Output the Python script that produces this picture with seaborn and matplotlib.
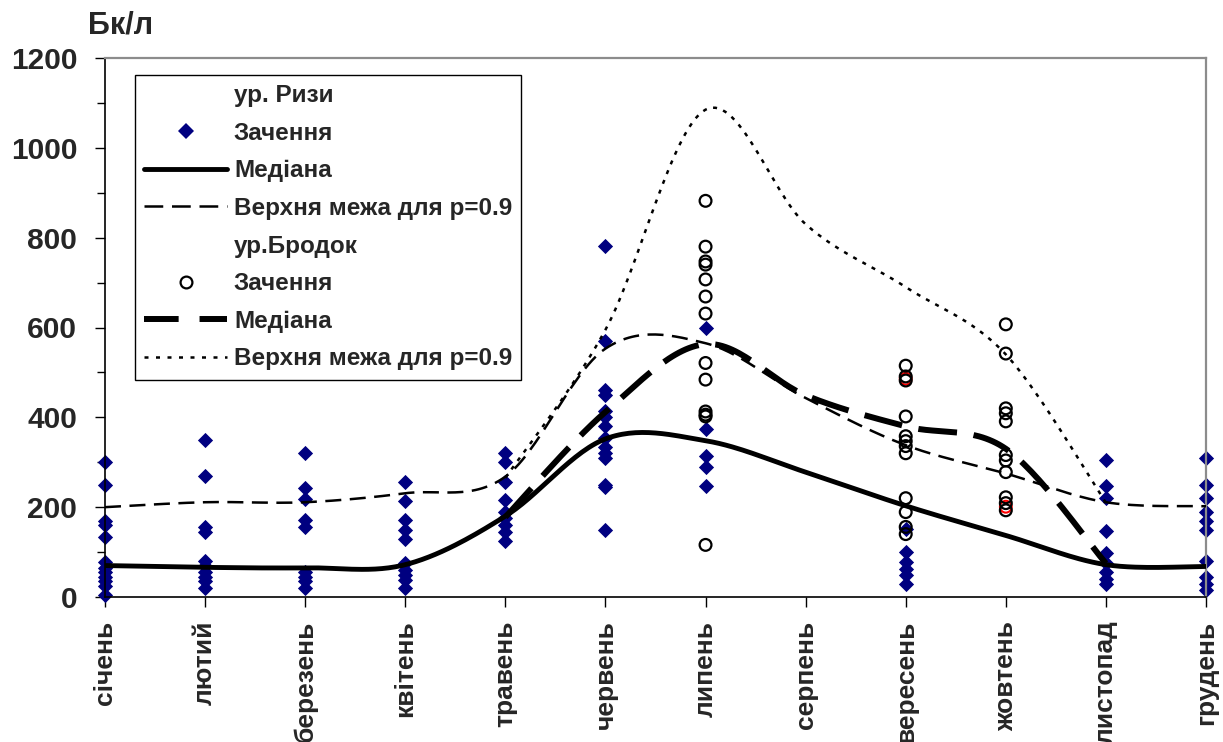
import numpy as np
import pandas as pd
import matplotlib
matplotlib.use("Agg")
import matplotlib.pyplot as plt
from matplotlib.lines import Line2D
import seaborn as sns

# ---------------------------------------------------------------- data
months = ["січень", "лютий", "березень", "квітень", "травень", "червень",
          "липень", "серпень", "вересень", "жовтень", "листопад", "грудень"]

# ур. Ризи: individual measurements, Бк/л
riza_jan = [300, 250, 170, 160, 133, 78, 65, 55, 45, 35, 25, 5]
riza_feb = [350, 270, 155, 145, 80, 70, 55, 45, 35, 20]
riza_mar = [320, 243, 218, 172, 156, 55, 45, 35, 20]
riza_apr = [255, 213, 172, 150, 130, 75, 60, 50, 38, 20]
riza_may = [320, 300, 255, 215, 190, 175, 160, 145, 125]
riza_jun = [782, 571, 460, 450, 415, 400, 380, 355, 333, 320, 310, 250, 245, 150]
riza_jul = [598, 373, 313, 290, 247]
riza_aug = []
riza_sep = [152, 100, 78, 62, 48, 28]
riza_oct = []
riza_nov = [305, 248, 220, 148, 98, 76, 55, 40, 30]
riza_dec = [310, 250, 220, 190, 170, 150, 80, 45, 30, 15]

riza_median = [70, 66, 65, 72, 180, 352, 348, 278, 203, 137, 72, 68]
riza_upper = [200, 211, 211, 231, 268, 553, 565, 443, 338, 275, 211, 202]

# ур.Бродок: individual measurements, Бк/л
brodok_jul = [882, 780, 747, 740, 707, 669, 631, 521, 484, 413, 406, 402, 116]
brodok_sep = [515, 491, 482, 402, 358, 347, 336, 320, 220, 189, 156, 140]
brodok_oct = [607, 542, 420, 409, 391, 316, 304, 278, 222, 209, 193]
brodok_red_sep = [486]
brodok_red_oct = [201]

brodok_months = [4, 5, 6, 7, 8, 9, 10]
brodok_median = [178, 412, 563, 449, 380, 330, 75]
brodok_upper = [265, 595, 1085, 830, 690, 540, 210]

y_ticks = [0, 200, 400, 600, 800, 1000, 1200]

NAVY = "#000080"


def long_form(per_month):
    rows = [(m, v) for m, vals in per_month for v in vals]
    return pd.DataFrame(rows, columns=["month", "value"])


def smooth(xs, ys, n=30):
    """Catmull-Rom curve through the points (smoothed-line style)."""
    p = np.column_stack([np.asarray(xs, float), np.asarray(ys, float)])
    ext = np.vstack([p[0], p, p[-1]])
    out = []
    t = np.linspace(0, 1, n, endpoint=False)[:, None]
    h00 = 2 * t**3 - 3 * t**2 + 1
    h10 = t**3 - 2 * t**2 + t
    h01 = -2 * t**3 + 3 * t**2
    h11 = t**3 - t**2
    for i in range(1, len(ext) - 2):
        p0, p1 = ext[i], ext[i + 1]
        m0 = (ext[i + 1] - ext[i - 1]) / 2
        m1 = (ext[i + 2] - ext[i]) / 2
        out.append(h00 * p0 + h10 * m0 + h01 * p1 + h11 * m1)
    out.append(p[-1][None, :])
    c = np.vstack(out)
    return pd.DataFrame({"x": c[:, 0], "y": c[:, 1]})


riza_df = long_form(enumerate([riza_jan, riza_feb, riza_mar, riza_apr, riza_may,
                               riza_jun, riza_jul, riza_aug, riza_sep, riza_oct,
                               riza_nov, riza_dec]))
brodok_df = long_form([(6, brodok_jul), (8, brodok_sep), (9, brodok_oct)])
brodok_red_df = long_form([(8, brodok_red_sep), (9, brodok_red_oct)])

# ---------------------------------------------------------------- style
sns.set_style("white")
plt.rcParams["font.family"] = ["Liberation Sans", "DejaVu Sans"]
plt.rcParams["font.weight"] = "bold"

fig = plt.figure(figsize=(12.23, 7.42), dpi=100)
W, H = 1223, 742
ax = fig.add_axes([105 / W, 1 - 597 / H, (1206 - 105) / W, (597 - 58) / H])

# ---------------------------------------------------------------- series
sns.scatterplot(data=riza_df, x="month", y="value", marker="D", s=60,
                color=NAVY, edgecolor=NAVY, linewidth=0, ax=ax,
                zorder=2, legend=False, clip_on=False)

sns.lineplot(data=smooth(range(12), riza_median), x="x", y="y", ax=ax,
             color="black", linewidth=3.5, estimator=None, sort=False,
             zorder=3, solid_capstyle="butt")
sns.lineplot(data=smooth(range(12), riza_upper), x="x", y="y", ax=ax,
             color="black", linewidth=1.8, estimator=None, sort=False,
             linestyle=(0, (6.4, 3.4)), zorder=3)

sns.scatterplot(data=brodok_red_df, x="month", y="value", marker="o", s=72,
                facecolor="none", edgecolor="red", linewidth=1.5, ax=ax,
                zorder=4, legend=False, clip_on=False)
sns.scatterplot(data=brodok_df, x="month", y="value", marker="o", s=72,
                facecolor="none", edgecolor="black", linewidth=1.6, ax=ax,
                zorder=4, legend=False, clip_on=False)

sns.lineplot(data=smooth(brodok_months, brodok_median), x="x", y="y", ax=ax,
             color="black", linewidth=4.3, estimator=None, sort=False,
             linestyle=(0, (6.5, 2.8)), zorder=5)
sns.lineplot(data=smooth(brodok_months, brodok_upper), x="x", y="y", ax=ax,
             color="black", linewidth=1.8, estimator=None, sort=False,
             linestyle=(0, (1.6, 2.6)), zorder=5)

# ---------------------------------------------------------------- axes
ax.set_xlim(0, 11)
ax.set_ylim(0, 1200)
ax.set_xticks(range(12))
ax.set_xticklabels(months, rotation=90, fontsize=19, fontweight="bold")
ax.set_yticks(y_ticks)
ax.set_yticklabels([str(v) for v in y_ticks], fontsize=21.5, fontweight="bold")
ax.set_yticks(np.arange(100, 1200, 200), minor=True)
ax.set_xlabel("")
ax.set_ylabel("")
ax.tick_params(axis="x", which="major", direction="out", length=7, width=1.0,
               color="black", pad=10, bottom=True)
ax.tick_params(axis="y", which="major", direction="out", length=7, width=1.0,
               color="black", pad=13, left=True)
ax.tick_params(axis="y", which="minor", direction="out", length=6, width=1.0,
               color="black", left=True)
ax.grid(False)
for side in ("left", "bottom"):
    ax.spines[side].set_color("black")
    ax.spines[side].set_linewidth(1.2)
for side in ("top", "right"):
    ax.spines[side].set_color("#8c8c8c")
    ax.spines[side].set_linewidth(1.6)
    ax.spines[side].set_visible(True)

fig.text(88 / W, 1 - 33 / H, "Бк/л", fontsize=22, fontweight="bold",
         ha="left", va="baseline")

# ---------------------------------------------------------------- legend
blank = Line2D([], [], linestyle="none", marker=None)
handles = [
    blank,
    Line2D([], [], linestyle="none", marker="D", markersize=8,
           markerfacecolor=NAVY, markeredgecolor=NAVY, markeredgewidth=0),
    Line2D([], [], color="black", linewidth=3.5),
    Line2D([], [], color="black", linewidth=1.8, linestyle=(0, (7.5, 3.5))),
    blank,
    Line2D([], [], linestyle="none", marker="o", markersize=8.5,
           markerfacecolor="none", markeredgecolor="black", markeredgewidth=1.6),
    Line2D([], [], color="black", linewidth=4.3, linestyle=(0, (5.8, 3.5))),
    Line2D([], [], color="black", linewidth=1.8, linestyle=(0, (1.6, 3.0))),
]
labels = ["ур. Ризи", "Зачення", "Медіана", "Верхня межа для р=0.9",
          "ур.Бродок", "Зачення", "Медіана", "Верхня межа для р=0.9"]
leg = ax.legend(handles, labels, loc="upper left",
                bbox_to_anchor=(135 / W, 1 - 75 / H),
                bbox_transform=fig.transFigure, borderaxespad=0,
                prop={"size": 17.5, "weight": "bold"},
                handlelength=3.4, handletextpad=0.29, labelspacing=0.6,
                borderpad=0.38, frameon=True, fancybox=False, framealpha=1)
leg.get_frame().set_edgecolor("black")
leg.get_frame().set_linewidth(1.0)
leg.set_zorder(10)

fig.savefig("out.png", dpi=100, facecolor="white")
